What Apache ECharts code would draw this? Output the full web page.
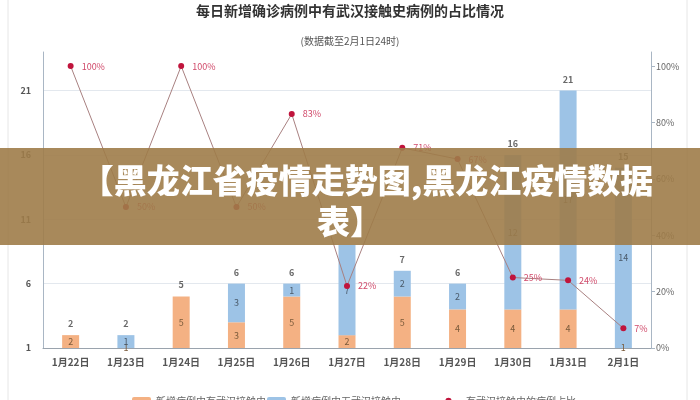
<!DOCTYPE html>
<html><head><meta charset="utf-8">
<script src="https://cdn.jsdelivr.net/npm/echarts@6/dist/echarts.min.js"></script>
<style>html,body{margin:0;padding:0;background:#fff}#c{width:700px;height:400px}</style>
</head><body><div id="c"></div>
<script>
const categories = ['1月22日','1月23日','1月24日','1月25日','1月26日','1月27日','1月28日','1月29日','1月30日','1月31日','2月1日'];
const withContact = [2,1,5,3,5,2,5,4,4,4,1];
const withoutContact = [0,1,0,3,1,7,2,2,12,17,14];
const totals = [2,2,5,6,6,9,7,6,16,21,15];
const percent = [100,50,100,50,83,22,71,67,25,24,7];
const leftTicks = [1,6,11,16,21];
const rightTicks = [0,20,40,60,80,100];
const seriesNames = ['新增病例中有武汉接触史','新增病例中无武汉接触史','有武汉接触史的病例占比'];

const FONT = '"Noto Sans CJK SC","Noto Sans",sans-serif';
const chart = echarts.init(document.getElementById('c'));
const legendText = {fontSize: 10, color: '#666', fontFamily: FONT};
chart.setOption({
  animation: false,
  textStyle: {fontFamily: FONT},
  title: [
    {text: '每日新增确诊病例中有武汉接触史病例的占比情况', left: 'center', top: -1,
     textStyle: {fontSize: 14, fontWeight: 'bold', color: '#333', fontFamily: FONT}},
    {text: '(数据截至2月1日24时)', left: 'center', top: 31,
     textStyle: {fontSize: 10, fontWeight: 'normal', color: '#555', fontFamily: FONT}}
  ],
  legend: [
    {data: [seriesNames[0]], left: 127, top: 391, itemWidth: 19, itemHeight: 8, itemGap: 4, textStyle: legendText},
    {data: [seriesNames[1]], left: 262, top: 391, itemWidth: 19, itemHeight: 8, itemGap: 4, textStyle: legendText},
    {data: [seriesNames[2]], left: 430, top: 391, itemWidth: 25, itemHeight: 8, itemGap: 4, textStyle: legendText}
  ],
  grid: {left: 43, right: 49, top: 52, bottom: 52},
  xAxis: {
    type: 'category', data: categories,
    axisLine: {lineStyle: {color: '#9aa3ad', width: 1}},
    axisTick: {show: false},
    axisLabel: {fontSize: 10, fontWeight: 'bold', color: '#555', margin: 9}
  },
  yAxis: [
    {type: 'value', min: leftTicks[0], max: 24, interval: leftTicks[1] - leftTicks[0],
     axisLine: {show: true, lineStyle: {color: '#a9b6c4'}},
     axisTick: {show: false},
     axisLabel: {fontSize: 9, fontWeight: 'bold', color: '#555', margin: 12, showMaxLabel: false},
     splitLine: {show: true, showMaxLine: false, showMinLine: false, lineStyle: {color: '#e3e8ee'}}},
    {type: 'value', min: rightTicks[0], max: 105, interval: rightTicks[1] - rightTicks[0],
     position: 'right',
     axisLine: {show: true, lineStyle: {color: '#a9b6c4'}},
     axisTick: {show: true, length: 4, lineStyle: {color: '#a9b6c4'}},
     axisLabel: {fontSize: 9, color: '#666', margin: 5, showMaxLabel: false, formatter: v => v + '%'},
     splitLine: {show: false}}
  ],
  series: [
    {name: seriesNames[0], type: 'bar', stack: 'a', barWidth: 17, data: withContact,
     itemStyle: {color: '#f4b183'},
     label: {show: true, position: 'inside', fontSize: 9, color: '#7a5a3a',
             formatter: p => p.value ? String(p.value) : ''}},
    {name: seriesNames[1], type: 'bar', stack: 'a', barWidth: 17, data: withoutContact,
     itemStyle: {color: '#9dc3e6'},
     label: {show: true, position: 'inside', fontSize: 9, color: '#4a5a6a',
             formatter: p => p.value ? String(p.value) : ''}},
    {name: 'total', type: 'scatter', data: totals, symbolSize: 0, silent: true,
     label: {show: true, position: 'top', distance: 7, fontSize: 9, fontWeight: 'bold', color: '#444'}},
    {name: seriesNames[2], type: 'line', yAxisIndex: 1, data: percent,
     symbol: 'circle', symbolSize: 6,
     lineStyle: {color: '#a88080', width: 1},
     itemStyle: {color: '#c0143c'},
     label: {show: true, position: 'right', distance: 8, fontSize: 9, color: '#d04a6a',
             formatter: p => p.value + '%'}}
  ],
  graphic: [
    {type: 'rect', shape: {x: 8, y: -2, width: 679, height: 404}, style: {fill: 'none', stroke: '#e6e6e6', lineWidth: 1}, z: -1},
    {type: 'rect', shape: {x: 0, y: 148, width: 700, height: 97}, style: {fill: 'rgba(158,124,73,0.9)'}, z: 100},
    {type: 'text', x: 367, y: 180, z: 101,
     style: {text: '【黑龙江省疫情走势图,黑龙江疫情数据', fill: '#fff', font: '900 33px "Noto Sans CJK SC"', textAlign: 'center', textVerticalAlign: 'middle'}},
    {type: 'text', x: 350, y: 221, z: 101,
     style: {text: '表】', fill: '#fff', font: '900 33px "Noto Sans CJK SC"', textAlign: 'center', textVerticalAlign: 'middle'}}
  ]
});
</script></body></html>
